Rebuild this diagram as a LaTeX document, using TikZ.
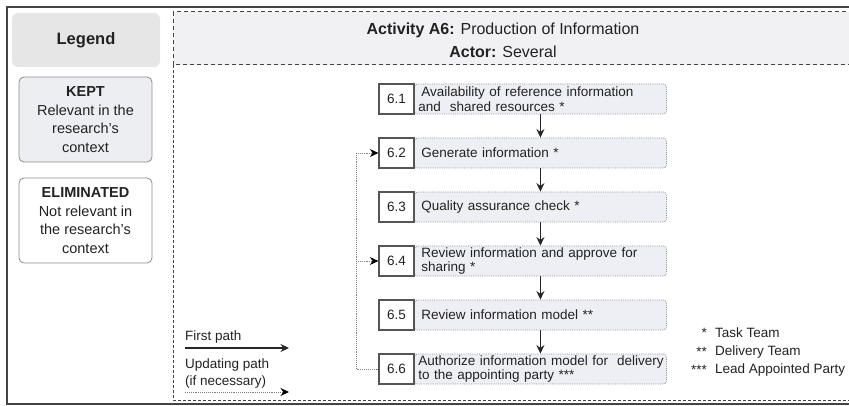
\documentclass[tikz,border=0pt]{standalone}
\usepackage{fontspec}
\setmainfont{Liberation Sans}
\usetikzlibrary{arrows.meta}
\definecolor{txt}{HTML}{222222}
\definecolor{framec}{HTML}{444444}
\definecolor{legfill}{HTML}{E6E6E6}
\definecolor{keptfill}{HTML}{EDEEF2}
\definecolor{headfill}{HTML}{F1F1F4}
\definecolor{stepfill}{HTML}{EEEFF4}
\definecolor{numc}{HTML}{555555}
\begin{document}
\begin{tikzpicture}[x=1pt,y=-1pt, font=\fontsize{13.5}{14.5}\selectfont, text=txt,
  numbox/.style={draw=numc, line width=1.3pt, fill=white, minimum width=35pt, minimum height=30pt, inner sep=0pt},
  stepbox/.style={draw=gray!85, densely dotted, line width=0.8pt, fill=stepfill, rounded corners=3pt, minimum width=250pt, minimum height=30pt, text width=244pt, align=left, inner xsep=4pt, inner ysep=1pt, anchor=west},
  flow/.style={-{Stealth[length=8.5pt,width=8pt]}, line width=1.3pt, draw=black!85},
  update/.style={densely dotted, draw=gray, line width=0.9pt},
  updarrow/.style={-{Stealth[length=8.5pt,width=8pt,black,sep=0pt]}, densely dotted, draw=gray, line width=0.9pt},
  legbox/.style={draw=gray!90, line width=0.8pt, rounded corners=5pt, minimum width=133pt, minimum height=85pt, align=center, font=\fontsize{14.5}{18.5}\selectfont},
  small/.style={font=\fontsize{13.5}{15}\selectfont}
]
\useasboundingbox (0,0) rectangle (849,406);
\clip (0,0) rectangle (849,406);

% outer frame
\draw[framec, line width=1.3pt] (7,7) rectangle (880,404);

% legend column
\node[fill=legfill, rounded corners=6pt, minimum width=148pt, minimum height=54pt, font=\fontsize{16.5}{18}\selectfont\bfseries] (leg) at (86,40) {Legend};
\node[legbox, fill=keptfill] (kept) at (85.5,119.5) {\textbf{KEPT}\\Relevant in the\\research's\\context};
\node[legbox, fill=white] (elim) at (85.5,220.5) {\textbf{ELIMINATED}\\Not relevant in\\the research's\\context};

% activity header
\draw[framec, dashed, dash pattern=on 4pt off 3pt, line width=1pt, fill=headfill] (173,12) rectangle (880,65);
\node[font=\fontsize{16}{18}\selectfont] (title) at (503,30) {\textbf{Activity A6:} Production of Information};
\node[font=\fontsize{16}{18}\selectfont] (actor) at (503,52) {\textbf{Actor:} Several};

% main area border
\draw[framec, dash pattern=on 3pt off 2pt, line width=1pt] (173,65) -- (173,400) -- (880,400);

% steps
\foreach \i/\y/\t in {1/99/{\mbox{\hspace*{3pt}Availability of reference information}\\\mbox{and\ \ shared resources *}},
                      2/153/{\mbox{\hspace*{3pt}Generate information *}},
                      3/207/{\mbox{\hspace*{3pt}Quality assurance check *}},
                      4/261/{\mbox{\hspace*{3pt}Review information and approve for}\\\mbox{\hspace*{3pt}sharing *}},
                      5/315/{\mbox{\hspace*{3pt}Review information model **}},
                      6/369/{\mbox{Authorize information model for\ \ delivery}\\\mbox{to the appointing party ***}}} {
  \node[stepbox] (t\i) at (414,\y) {\t};
  \node[numbox] (n\i) at (396.5,\y) {6.\i};
}

\draw[flow] (t1.south) -- (t2.north);
\draw[flow] (t2.south) -- (t3.north);
\draw[flow] (t3.south) -- (t4.north);
\draw[flow] (t4.south) -- (t5.north);
\draw[flow] (t5.south) -- (t6.north);

% updating path
\coordinate (fb6) at (356,369);
\coordinate (fb4) at (356,261);
\coordinate (fb2) at (356,153);
\draw[update] (n6.west) -- (fb6) -- (fb2);
\draw[updarrow] (fb2) -- (n2.west);
\draw[updarrow] (fb4) -- (n4.west);

% path legend
\node[small, anchor=west, inner sep=0pt] (fp) at (185,337) {First path};
\node[small, anchor=west, inner sep=0pt] (up) at (185,365) {Updating path};
\node[small, anchor=west, inner sep=0pt] (nec) at (185,382) {(if necessary)};
\coordinate (fpa) at (185,348);
\coordinate (fpb) at (289,348);
\coordinate (upa) at (185,392);
\coordinate (upb) at (289,392);
\draw[flow] (fpa) -- (fpb);
\draw[updarrow] (upa) -- (upb);

% actor legend
\node[small, anchor=east, inner sep=0pt] (s1) at (707,333) {*};
\node[small, anchor=east, inner sep=0pt] (s2) at (707,352) {**};
\node[small, anchor=east, inner sep=0pt] (s3) at (707,370) {***};
\node[small, anchor=west, inner sep=0pt] (l1) at (715,333) {Task Team};
\node[small, anchor=west, inner sep=0pt] (l2) at (715,352) {Delivery Team};
\node[small, anchor=west, inner sep=0pt] (l3) at (715,370) {Lead Appointed Party};
\end{tikzpicture}
\end{document}
